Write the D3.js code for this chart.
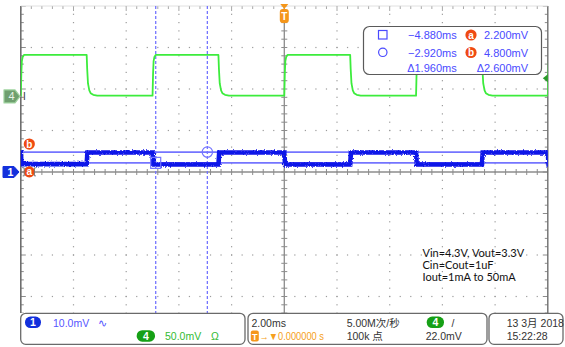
<!DOCTYPE html>
<html><head><meta charset="utf-8">
<script src="https://cdn.jsdelivr.net/npm/d3@7"></script>
<style>
html,body{margin:0;padding:0;background:#fff;}
svg{display:block;font-family:"Liberation Sans",Arial,sans-serif;}
</style></head><body>
<svg id="scope" width="565" height="347"></svg>
<script>
// Scope settings
const msPerDiv = 2.0;
const hDivs = 10, vDivs = 8;
const ch1mVPerDiv = 10.0, ch4mVPerDiv = 50.0;
const ch1Offset = 0;      // divisions above centre
const ch4Offset = 1.82;   // divisions above centre
const ch4TrigLevel = 22.0; // mV

// Step edges (ms from trigger) and the level held after each edge (mV)
const edgeTimes = [-12.5, -10.0, -7.5, -5.0, -2.5, 0.0, 2.5, 5.0, 7.5, 10.0, 12.5];
const ch1Levels = [4.7, 1.9, 4.7, 1.8, 4.7, 1.8, 4.7, 1.8, 4.7, 1.8];
const ch4Levels = [1.0, 50.0, 1.0, 50.0, 1.0, 50.0, 1.0, 50.0, 1.0, 50.0];

// Edge shapes: [ms after edge, fraction of step completed]
const ch4Rise = [[0, 0], [0.02, 0.55], [0.04, 0.85], [0.07, 0.95], [0.12, 1]];
const ch4Fall = [[0, 0], [0.02, 0.35], [0.05, 0.7], [0.1, 0.87], [0.15, 0.94], [0.25, 0.98], [0.4, 1]];
const ch1Rise = [[0, 0], [0.03, 1]];
const ch1Fall = [[0, 0], [0.03, 1]];

// Cursors
const cursorTimes = [-4.880, -2.920];  // ms
const cursorLevels = [2.200, 4.800];   // mV
const cursorLabels = ["a", "b"];

// Status bar text
const ch1Info = ["1", "10.0mV", "\u223F"];
const ch4Info = ["4", "50.0mV", "\u03A9"];
const timebaseInfo = ["2.00ms", "\u2192\u25BC0.000000 s"];
const sampleInfo = ["5.00M\u6B21/\u79D2", "100k \u70B9"];
const trigInfo = ["4", "/", "22.0mV"];
const dateInfo = ["13 3\u6708 2018", "15:22:28"];
const noteLines = ["Vin=4.3V, Vout=3.3V", "Cin=Cout=1uF", "Iout=1mA to 50mA"];

const svg = d3.select("#scope");
const plot = {left: 20.8, right: 547.8, top: 6, bottom: 338, visBottom: 313};

const x = d3.scaleLinear()
  .domain([-msPerDiv * hDivs / 2, msPerDiv * hDivs / 2])
  .range([plot.left, plot.right]);
const yDiv = d3.scaleLinear().domain([-vDivs / 2, vDivs / 2]).range([plot.bottom, plot.top]);
const y1 = mv => yDiv(mv / ch1mVPerDiv + ch1Offset);
const y4 = mv => yDiv(mv / ch4mVPerDiv + ch4Offset);

svg.append("rect").attr("width", 565).attr("height", 347).attr("fill", "#fff");

const defs = svg.append("defs");
defs.append("clipPath").attr("id", "plotClip").append("rect")
  .attr("x", plot.left).attr("y", plot.top)
  .attr("width", plot.right - plot.left).attr("height", plot.visBottom - plot.top);
const rough = defs.append("filter").attr("id", "rough")
  .attr("x", "-2%").attr("y", "-50%").attr("width", "104%").attr("height", "200%");
rough.append("feTurbulence").attr("type", "fractalNoise")
  .attr("baseFrequency", "0.9 0.6").attr("numOctaves", 2).attr("seed", 4).attr("result", "n");
rough.append("feDisplacementMap").attr("in", "SourceGraphic").attr("in2", "n")
  .attr("scale", 3).attr("xChannelSelector", "R").attr("yChannelSelector", "G");

// ---- graticule ----
const grid = svg.append("g").attr("clip-path", "url(#plotClip)");
const minorT = d3.range(-10, 10.001, msPerDiv / 5);
const minorV = d3.range(-4, 4.001, 0.2);
const majorT = d3.range(-8, 8.001, msPerDiv).filter(t => Math.abs(t) > 1e-6);
const majorV = d3.range(-3, 3.001, 1).filter(v => Math.abs(v) > 1e-6);

majorT.forEach(t => {
  grid.selectAll(null).data(minorV).join("rect")
    .attr("x", x(t) - 0.6).attr("y", d => yDiv(d) - 0.6)
    .attr("width", 1.2).attr("height", 1.2).attr("fill", "#9c9c9c");
});
majorV.forEach(v => {
  grid.selectAll(null).data(minorT).join("rect")
    .attr("x", d => x(d) - 0.6).attr("y", yDiv(v) - 0.6)
    .attr("width", 1.2).attr("height", 1.2).attr("fill", "#9c9c9c");
});

// centre axes with ticks
const cx = x(0), cy = yDiv(0);
grid.append("line").attr("x1", cx).attr("x2", cx).attr("y1", plot.top).attr("y2", plot.visBottom)
  .attr("stroke", "#8c8c8c").attr("stroke-width", 1.3);
grid.append("line").attr("x1", plot.left).attr("x2", plot.right).attr("y1", cy).attr("y2", cy)
  .attr("stroke", "#8c8c8c").attr("stroke-width", 1.3);
grid.selectAll(null).data(minorV).join("line")
  .attr("x1", cx - 3).attr("x2", cx + 3).attr("y1", d => yDiv(d)).attr("y2", d => yDiv(d))
  .attr("stroke", "#8c8c8c").attr("stroke-width", 1);
grid.selectAll(null).data(minorT).join("line")
  .attr("y1", cy - 3).attr("y2", cy + 3).attr("x1", d => x(d)).attr("x2", d => x(d))
  .attr("stroke", "#8c8c8c").attr("stroke-width", 1);

// frame ticks
const isMajor = v => Math.abs(v - Math.round(v)) < 1e-6;
grid.selectAll(null).data(minorV).join("line")
  .attr("x1", plot.left).attr("x2", d => plot.left + (isMajor(d) ? 5 : 3))
  .attr("y1", d => yDiv(d)).attr("y2", d => yDiv(d)).attr("stroke", "#8c8c8c");
grid.selectAll(null).data(minorV).join("line")
  .attr("x1", plot.right).attr("x2", d => plot.right - (isMajor(d) ? 5 : 3))
  .attr("y1", d => yDiv(d)).attr("y2", d => yDiv(d)).attr("stroke", "#8c8c8c");
grid.selectAll(null).data(minorT).join("line")
  .attr("y1", plot.top).attr("y2", d => plot.top + (isMajor(d / msPerDiv) ? 5 : 3))
  .attr("x1", d => x(d)).attr("x2", d => x(d)).attr("stroke", "#a8a8a8");
svg.append("line").attr("x1", plot.left).attr("x2", plot.left).attr("y1", plot.top).attr("y2", plot.visBottom)
  .attr("stroke", "#6e6e6e").attr("stroke-width", 1.6);
svg.append("line").attr("x1", plot.right).attr("x2", plot.right).attr("y1", plot.top).attr("y2", plot.visBottom)
  .attr("stroke", "#6e6e6e").attr("stroke-width", 1.4);
svg.append("line").attr("x1", plot.left).attr("x2", plot.right).attr("y1", plot.top).attr("y2", plot.top)
  .attr("stroke", "#d8d8d8").attr("stroke-width", 0.8);

// ---- traces ----
function buildTrace(levels, rise, fall) {
  const pts = [];
  levels.forEach((L, i) => {
    const t0 = edgeTimes[i], t1 = edgeTimes[i + 1];
    if (i === 0) pts.push([t0, L]);
    else {
      const p = levels[i - 1];
      (L > p ? rise : fall).forEach(([dt, f]) => pts.push([t0 + dt, p + (L - p) * f]));
    }
    pts.push([t1, L]);
  });
  return pts;
}
const traces = svg.append("g").attr("clip-path", "url(#plotClip)");

// cursor lines
const cursorColor = "#7474ff";
traces.selectAll(null).data(cursorLevels).join("line")
  .attr("x1", plot.left).attr("x2", plot.right)
  .attr("y1", d => y1(d)).attr("y2", d => y1(d))
  .attr("stroke", cursorColor).attr("stroke-width", 1.6);
traces.selectAll(null).data(cursorTimes).join("line")
  .attr("x1", d => x(d)).attr("x2", d => x(d))
  .attr("y1", plot.top).attr("y2", plot.visBottom)
  .attr("stroke", cursorColor).attr("stroke-width", 1.3).attr("stroke-dasharray", "3,2");

traces.append("path")
  .attr("d", d3.line().x(d => x(d[0])).y(d => y4(d[1]))(buildTrace(ch4Levels, ch4Rise, ch4Fall)))
  .attr("fill", "none").attr("stroke", "#3cec3c").attr("stroke-width", 1.8).attr("stroke-linejoin", "round");

traces.append("path")
  .attr("d", d3.line().x(d => x(d[0])).y(d => y1(d[1]))(buildTrace(ch1Levels, ch1Rise, ch1Fall)))
  .attr("fill", "none").attr("stroke", "#0d12e8").attr("stroke-width", 4.6)
  .attr("filter", "url(#rough)");

// cursor intersection markers
traces.append("rect")
  .attr("x", x(cursorTimes[0]) - 5).attr("y", y1(cursorLevels[0]) - 5.5)
  .attr("width", 10).attr("height", 11).attr("fill", "none").attr("stroke", cursorColor).attr("stroke-width", 1.2);
traces.append("circle")
  .attr("cx", x(cursorTimes[1])).attr("cy", y1(cursorLevels[1]))
  .attr("r", 5.2).attr("fill", "none").attr("stroke", cursorColor).attr("stroke-width", 1.2);

// ---- channel / cursor markers on the left ----
const orange = "#ef4a12";
function badge(g, cxp, cyp, txt) {
  g.append("circle").attr("cx", cxp).attr("cy", cyp).attr("r", 5.6).attr("fill", orange);
  g.append("text").attr("x", cxp).attr("y", cyp + 3.6).attr("text-anchor", "middle")
    .attr("fill", "#fff").attr("font-size", 10).attr("font-weight", "bold").text(txt);
}
const marks = svg.append("g");
const m1 = y1(0);
marks.append("path")
  .attr("d", `M3,${m1 - 5.5} h11 l5,5.5 l-5,5.5 h-11 z`)
  .attr("fill", "#1330dc").attr("stroke", "#1330dc").attr("stroke-width", 1).attr("stroke-linejoin", "round");
marks.append("text").attr("x", 10.5).attr("y", m1 + 4).attr("text-anchor", "middle")
  .attr("fill", "#fff").attr("font-size", 10.5).attr("font-weight", "bold").text("1");
const m4 = y4(0);
marks.append("path")
  .attr("d", `M4,${m4 - 6.5} h11 l5,6.5 l-5,6.5 h-11 z`)
  .attr("fill", "#6f9f6f").attr("stroke", "#9fd39f").attr("stroke-width", 1.2).attr("stroke-linejoin", "round");
marks.append("text").attr("x", 11.5).attr("y", m4 + 4).attr("text-anchor", "middle")
  .attr("fill", "#e8f2e8").attr("font-size", 11).text("4");
marks.append("text").attr("x", 24.5).attr("y", m4 + 4).attr("text-anchor", "middle")
  .attr("fill", "#333").attr("font-size", 10).text("I");
badge(marks, 29.3, y1(cursorLevels[0]) + 9, cursorLabels[0]);
badge(marks, 29.3, y1(cursorLevels[1]) - 8, cursorLabels[1]);
// brackets beside the "a" marker
[[24.2, -1], [34.4, 1]].forEach(([bx, s]) => {
  const by = y1(cursorLevels[0]) + 9;
  marks.append("path").attr("d", `M${bx + 1.5 * s},${by - 4} h${-1.5 * s} v8 h${1.5 * s}`)
    .attr("fill", "none").attr("stroke", "#777").attr("stroke-width", 1);
});

// trigger position marker at top
const tx = x(0);
marks.append("path").attr("d", `M${tx - 4},4 h8 l-4,5 z`).attr("fill", "#f5961a");
marks.append("rect").attr("x", tx - 4.5).attr("y", 9).attr("width", 9).attr("height", 14).attr("rx", 3)
  .attr("fill", "#f5961a");
marks.append("text").attr("x", tx).attr("y", 20).attr("text-anchor", "middle")
  .attr("fill", "#fff").attr("font-size", 10).attr("font-weight", "bold").text("T");
// trigger level marker at right
const tl = y4(ch4TrigLevel);
marks.append("path").attr("d", `M${plot.right - 5},${tl} l5,-4 v8 z`).attr("fill", "#2a9a2a");

// ---- cursor readout box ----
const blueTxt = "#4a4aff";
const rb = svg.append("g").attr("font-size", 11).attr("fill", blueTxt);
rb.append("rect").attr("x", 363.5).attr("y", 26.5).attr("width", 178).attr("height", 48)
  .attr("rx", 6).attr("fill", "#fff").attr("stroke", "#5a5a5a").attr("stroke-width", 1.2);
const fmtT = d => d3.format(".3f")(d).replace("-", "\u2212") + "ms";
const fmtV = d => d3.format(".3f")(d) + "mV";
const rowY = [39, 56.5];
rb.append("rect").attr("x", 378.5).attr("y", 30.5).attr("width", 8.5).attr("height", 8.5)
  .attr("fill", "none").attr("stroke", blueTxt).attr("stroke-width", 1.2);
rb.append("circle").attr("cx", 382.8).attr("cy", 52.3).attr("r", 4.2)
  .attr("fill", "none").attr("stroke", blueTxt).attr("stroke-width", 1.2);
cursorTimes.forEach((t, i) => {
  rb.append("text").attr("x", 456.7).attr("y", rowY[i]).attr("text-anchor", "end").text(fmtT(t));
  badge(rb, 471, rowY[i] - 4, cursorLabels[i]);
  rb.append("text").attr("x", 528).attr("y", rowY[i]).attr("text-anchor", "end").text(fmtV(cursorLevels[i]));
});
rb.append("text").attr("x", 456.7).attr("y", 72).attr("text-anchor", "end")
  .text("\u0394" + fmtT(cursorTimes[1] - cursorTimes[0]));
rb.append("text").attr("x", 528).attr("y", 72).attr("text-anchor", "end")
  .text("\u0394" + fmtV(cursorLevels[1] - cursorLevels[0]));

// ---- test conditions ----
svg.append("g").attr("font-family", "Lato, 'Liberation Sans', sans-serif").attr("font-size", 11).attr("fill", "#111")
  .selectAll("text").data(noteLines).join("text")
  .attr("x", 422.5).attr("y", (d, i) => 257 + i * 11.8).text(d => d);

// ---- status bar ----
const bar = svg.append("g").attr("font-size", 10.5);
[[20.7, 245], [248, 487], [489, 563]].forEach(([a, b]) => {
  bar.append("rect").attr("x", a).attr("y", 313.3).attr("width", b - a).attr("height", 31)
    .attr("rx", 5).attr("fill", "#fff").attr("stroke", "#6a6a6a").attr("stroke-width", 1.3);
});
function pill(g, x0, x1, yTop, fill, txt) {
  g.append("rect").attr("x", x0).attr("y", yTop).attr("width", x1 - x0).attr("height", 11.5)
    .attr("rx", 5.5).attr("fill", fill);
  g.append("text").attr("x", (x0 + x1) / 2).attr("y", yTop + 9.5).attr("text-anchor", "middle")
    .attr("fill", "#fff").attr("font-size", 10.5).attr("font-weight", "bold").text(txt);
}
const r1 = 326.8, r2 = 340.3;
pill(bar, 25, 41, 316.6, "#1330dc", ch1Info[0]);
bar.append("text").attr("x", 53).attr("y", r1).attr("fill", "#5555ff").text(ch1Info[1]);
bar.append("text").attr("x", 98).attr("y", r1).attr("fill", "#5555ff").attr("font-size", 11).text(ch1Info[2]);
pill(bar, 136.7, 155, 330.2, "#16a016", ch4Info[0]);
bar.append("text").attr("x", 165).attr("y", r2).attr("fill", "#33bb33").text(ch4Info[1]);
bar.append("text").attr("x", 211).attr("y", r2).attr("fill", "#33bb33").text(ch4Info[2]);

bar.append("text").attr("x", 251.5).attr("y", r1).attr("fill", "#333").text(timebaseInfo[0]);
bar.append("rect").attr("x", 250.8).attr("y", 330.5).attr("width", 8).attr("height", 11).attr("rx", 2).attr("fill", "#f5961a");
bar.append("text").attr("x", 254.8).attr("y", 339.5).attr("text-anchor", "middle").attr("fill", "#fff")
  .attr("font-size", 9).attr("font-weight", "bold").text("T");
bar.append("text").attr("x", 259.5).attr("y", r2).attr("fill", "#f5a020").attr("font-size", 10.5)
  .attr("textLength", 64.5).attr("lengthAdjust", "spacingAndGlyphs").text(timebaseInfo[1]);

bar.append("text").attr("x", 346.7).attr("y", r1).attr("fill", "#333")
  .attr("font-family", "'Liberation Sans','Noto Sans CJK SC',sans-serif").text(sampleInfo[0]);
bar.append("text").attr("x", 346.7).attr("y", r2).attr("fill", "#333")
  .attr("font-family", "'Liberation Sans','Noto Sans CJK SC',sans-serif").text(sampleInfo[1]);
pill(bar, 426.7, 444, 316.6, "#16a016", trigInfo[0]);
bar.append("text").attr("x", 451.5).attr("y", r1).attr("fill", "#333").text(trigInfo[1]);
bar.append("text").attr("x", 425.7).attr("y", r2).attr("fill", "#333").text(trigInfo[2]);

bar.append("text").attr("x", 506.7).attr("y", r1).attr("fill", "#333")
  .attr("font-family", "'Liberation Sans','Noto Sans CJK SC',sans-serif").text(dateInfo[0]);
bar.append("text").attr("x", 506.7).attr("y", r2).attr("fill", "#333").text(dateInfo[1]);
</script>
</body></html>
